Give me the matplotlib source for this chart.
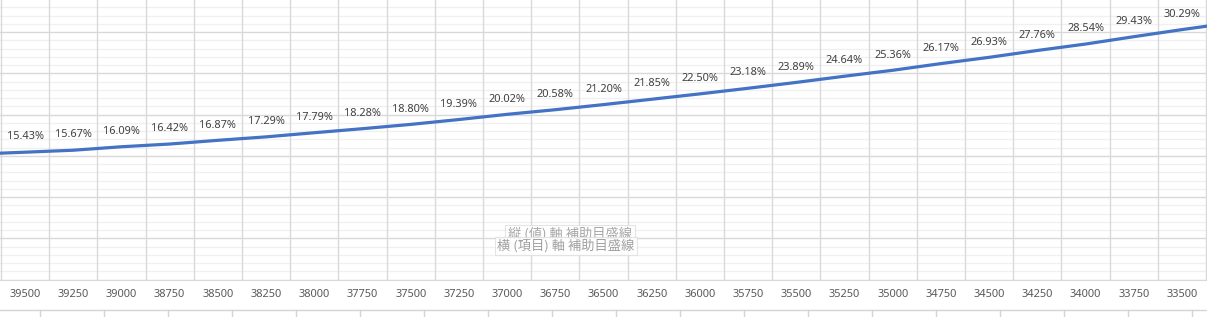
import matplotlib
matplotlib.use("Agg")
import matplotlib.pyplot as plt
from matplotlib.lines import Line2D
from matplotlib.ticker import MultipleLocator

# visible categories (x axis, descending) and the series (percent)
categories = [39500, 39250, 39000, 38750, 38500, 38250, 38000, 37750, 37500,
              37250, 37000, 36750, 36500, 36250, 36000, 35750, 35500, 35250,
              35000, 34750, 34500, 34250, 34000, 33750, 33500]
values = [15.43, 15.67, 16.09, 16.42, 16.87, 17.29, 17.79, 18.28, 18.80,
          19.39, 20.02, 20.58, 21.20, 21.85, 22.50, 23.18, 23.89, 24.64,
          25.36, 26.17, 26.93, 27.76, 28.54, 29.43, 30.29]
# neighbours just outside the cropped view (line runs off both edges)
edge_left = 15.20
edge_right = 31.10

W, H = 1207, 317
fig = plt.figure(figsize=(W / 100, H / 100), dpi=100)
ax = fig.add_axes([0, 37.5 / H, 1, 279.5 / H])

n = len(categories)
xs = [-1] + list(range(n)) + [n]
ys = [edge_left] + values + [edge_right]
ax.plot(xs, ys, color="#4472C4", lw=2.3, solid_capstyle="round", zorder=3)

for i, v in enumerate(values):
    ax.annotate(f"{v:.2f}%", (i, v), xytext=(0, 11), textcoords="offset points",
                ha="center", va="center", fontsize=7.9, family="Noto Sans",
                color="#404040", zorder=4)

ax.set_xlim(-0.52, n - 0.48)
ax.set_ylim(0, 279.5 / 8.25)

# gridlines
ax.yaxis.set_major_locator(MultipleLocator(5))
ax.yaxis.set_minor_locator(MultipleLocator(1))
ax.grid(axis="y", which="major", color="#d9d9d9", lw=1)
ax.grid(axis="y", which="minor", color="#f0f0f0", lw=1)
for b in range(n + 1):
    ax.axvline(b - 0.5, color="#d9d9d9", lw=1, zorder=1)
ax.set_axisbelow(True)

ax.set_xticks(range(n))
ax.set_xticklabels([str(c) for c in categories], fontsize=7.9,
                   family="Noto Sans", color="#595959")
ax.tick_params(axis="x", length=0, pad=6.5)
ax.tick_params(axis="y", which="both", left=False, labelleft=False)
for s in ["top", "left", "right"]:
    ax.spines[s].set_visible(False)
ax.spines["bottom"].set_color("#d9d9d9")

# ghost tooltips left over from the spreadsheet
tip = dict(boxstyle="square,pad=0.2", fc="white", ec="#e0e0e0", lw=0.8, alpha=0.85)
fig.text(570 / W, 1 - 234 / H, "縦 (値) 軸 補助目盛線", ha="center", va="center",
         fontsize=9.5, family=["Noto Sans CJK JP", "DejaVu Sans"], color="#a6a6a6",
         bbox=tip, zorder=5)
fig.text(566 / W, 1 - 246 / H, "横 (項目) 軸 補助目盛線", ha="center", va="center",
         fontsize=9.5, family=["Noto Sans CJK JP", "DejaVu Sans"], color="#a0a0a0",
         bbox=tip, zorder=6)

# spreadsheet cell borders below the chart
fig.add_artist(Line2D([0, 1], [1 - 310 / H] * 2, transform=fig.transFigure,
                      color="#d4d4d4", lw=1))
for px in range(40, W, 64):
    fig.add_artist(Line2D([px / W] * 2, [0, 1 - 310 / H], transform=fig.transFigure,
                          color="#d4d4d4", lw=1))

fig.savefig("out.png", dpi=100)
